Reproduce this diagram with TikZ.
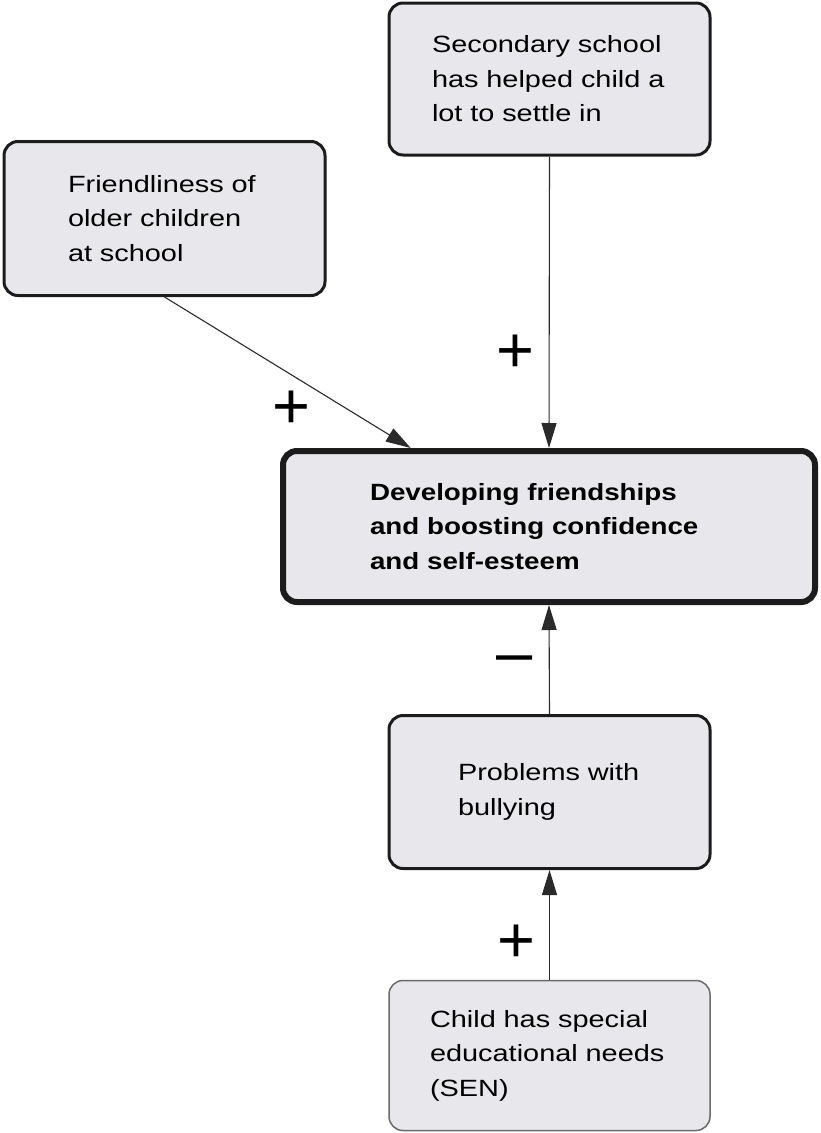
\documentclass[tikz,border=0pt]{standalone}
\usepackage{fontspec}
\setmainfont{Liberation Sans}[FakeStretch=1.23]
\newfontfamily\mainbold{Liberation Sans Bold}[FakeStretch=1.18]
\newfontfamily\signfont{Liberation Sans}
\usetikzlibrary{arrows.meta,calc}
\definecolor{boxfill}{HTML}{E8E8EC}
\definecolor{edge}{HTML}{1C1C1C}
\definecolor{softedge}{HTML}{6A6A6A}
\definecolor{linec}{HTML}{2A2A2A}
\tikzset{
  box/.style={draw=edge, line width=3pt, fill=boxfill, rounded corners=14pt,
    align=left, inner ysep=0pt,
    font=\fontsize{23.5}{34.5}\selectfont},
  mainbox/.style={box, line width=6pt, font=\mainbold\fontsize{23.5}{34.5}\selectfont},
  softbox/.style={box, draw=softedge, line width=1.5pt},
  conn/.style={draw=linec, line width=1.1pt, -{Triangle[length=25pt,width=15pt]}},
  sign/.style={inner sep=0pt, font=\signfont\fontsize{65}{65}\selectfont}
}
\begin{document}
\begin{tikzpicture}[x=1pt,y=-1pt]
\useasboundingbox (0,0) rectangle (820,1133);
% boxes: width = text width + 2*inner xsep
\node[box, minimum height=152pt, inner xsep=43pt, text width=235pt] (top) at (549.5,79)
  {Secondary school\\has helped child a\\lot to settle in};
\node[box, minimum height=154pt, inner xsep=64pt, text width=193pt] (left) at (164.5,218.5)
  {Friendliness of\\older children\\at school};
\node[mainbox, minimum height=151pt, inner xsep=87pt, text width=358pt] (central) at (549,526.5)
  {Developing friendships\\and boosting confidence\\and self-esteem};
\node[box, minimum height=153pt, inner xsep=69pt, text width=183pt] (bully) at (549.5,792)
  {Problems with\\bullying};
\node[softbox, minimum height=150pt, inner xsep=41pt, text width=239pt] (sen) at (549.5,1055.5)
  {Child has special\\educational needs\\(SEN)};
% connectors
\draw[conn] (top.south) -- (central.north);
\draw[conn] (left.south) -- ($(central.north west)!0.243!(central.north east)$);
\draw[conn] (bully.north) -- (central.south);
\draw[conn] (sen.north) -- (bully.south);
% signs
\node[sign] (s1) at (515,354) {+};
\node[sign] (s2) at (291,410) {+};
\node[sign] (s3) at (515,665) {–};
\node[sign] (s4) at (516,944) {+};
\end{tikzpicture}
\end{document}
